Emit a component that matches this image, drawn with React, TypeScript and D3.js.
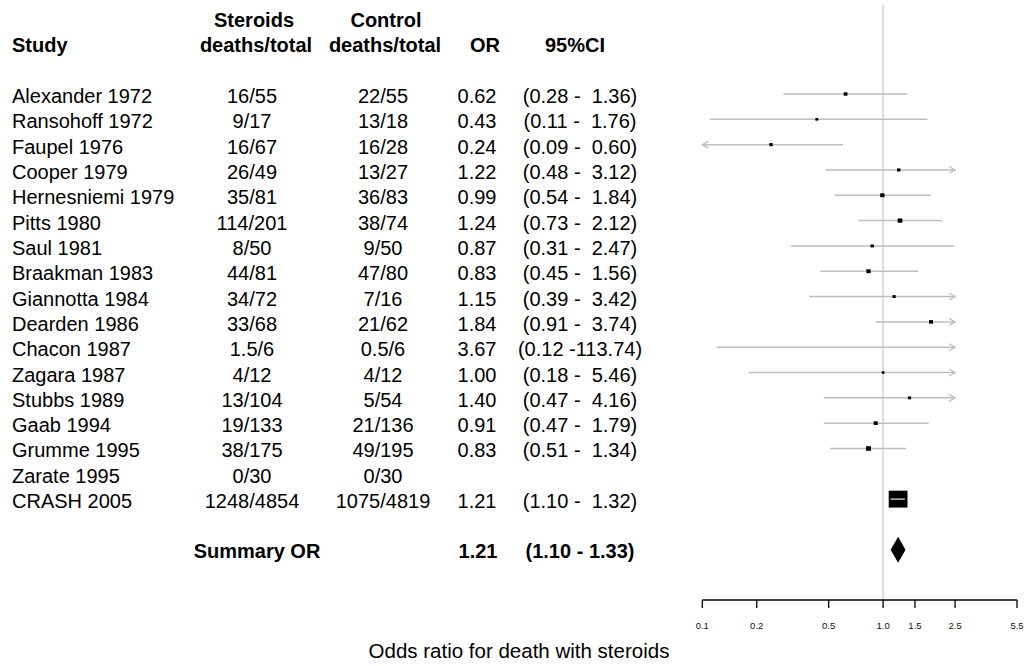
import React from "react";
import * as d3 from "d3";

// Trial table: corticosteroids after head injury
const studies = [
  "Alexander 1972", "Ransohoff 1972", "Faupel 1976", "Cooper 1979", "Hernesniemi 1979",
  "Pitts 1980", "Saul 1981", "Braakman 1983", "Giannotta 1984", "Dearden 1986",
  "Chacon 1987", "Zagara 1987", "Stubbs 1989", "Gaab 1994", "Grumme 1995",
  "Zarate 1995", "CRASH 2005",
];
const steroidDeaths = [
  "16/55", "9/17", "16/67", "26/49", "35/81", "114/201", "8/50", "44/81", "34/72",
  "33/68", "1.5/6", "4/12", "13/104", "19/133", "38/175", "0/30", "1248/4854",
];
const controlDeaths = [
  "22/55", "13/18", "16/28", "13/27", "36/83", "38/74", "9/50", "47/80", "7/16",
  "21/62", "0.5/6", "4/12", "5/54", "21/136", "49/195", "0/30", "1075/4819",
];
const oddsRatio: (number | null)[] = [
  0.62, 0.43, 0.24, 1.22, 0.99, 1.24, 0.87, 0.83, 1.15, 1.84, 3.67, 1.0, 1.4, 0.91, 0.83, null, 1.21,
];
const ciLower: (number | null)[] = [
  0.28, 0.11, 0.09, 0.48, 0.54, 0.73, 0.31, 0.45, 0.39, 0.91, 0.12, 0.18, 0.47, 0.47, 0.51, null, 1.1,
];
const ciUpper: (number | null)[] = [
  1.36, 1.76, 0.6, 3.12, 1.84, 2.12, 2.47, 1.56, 3.42, 3.74, 113.74, 5.46, 4.16, 1.79, 1.34, null, 1.32,
];
const summaryOR = 1.21;
const summaryLower = 1.1;
const summaryUpper = 1.33;

const axisTicks = [0.1, 0.2, 0.5, 1.0, 1.5, 2.5, 5.5];
const clipRange = [0.1, 2.5];

const W = 1029;
const H = 666;
const FONT = "'Liberation Sans', Arial, Helvetica, sans-serif";

const x = d3.scaleLog().domain([0.1, 5.5]).range([702.3, 1017]);
const rowY = d3.scaleLinear().domain([0, 1]).range([94, 94 + 25.32]);

const COL_STUDY = 12;
const COL_STER = 252;
const COL_CTRL = 383;
const COL_OR = 477;
const COL_CI = 580;

const LINE_COL = "#bebebe";

function seOf(lo: number, hi: number) {
  return (Math.log(hi) - Math.log(lo)) / (2 * 1.96);
}

// box side grows with precision (1/se), capped at the full box size
function boxSize(lo: number, hi: number) {
  return Math.min(20, 1.8 + 0.79 / seOf(lo, hi));
}

function ciText(lo: number, hi: number) {
  return `(${lo.toFixed(2)} -${hi.toFixed(2).padStart(6, " ")})`;
}

export default function App() {
  const baseOff = 9;
  const txt = { fontFamily: FONT, fontSize: 20, fill: "#000", whiteSpace: "pre" as const };
  const bold = { ...txt, fontWeight: 700 };
  const axisY = 600;
  const sumY = rowY(18);

  const rows = studies.map((s, i) => {
    const y = rowY(i);
    const or = oddsRatio[i];
    const lo = ciLower[i];
    const hi = ciUpper[i];
    let mark: React.ReactNode = null;
    if (or != null && lo != null && hi != null) {
      const size = boxSize(lo, hi);
      const clipHi = hi > clipRange[1];
      const clipLo = lo < clipRange[0];
      const boxInside = or >= clipRange[0] && or <= clipRange[1];
      const x0 = x(Math.max(lo, clipRange[0]));
      const x1 = x(Math.min(hi, clipRange[1]));
      const bx = x(or);
      const line = (
        <line x1={x0} x2={x1} y1={y} y2={y} stroke={LINE_COL} strokeWidth={1.5} />
      );
      mark = (
        <g key={`m${i}`}>
          {line}
          {clipHi && (
            <polyline
              points={`${x1 - 6},${y - 3.5} ${x1},${y} ${x1 - 6},${y + 3.5}`}
              fill="none"
              stroke={LINE_COL}
              strokeWidth={1.3}
            />
          )}
          {clipLo && (
            <polyline
              points={`${x0 + 6},${y - 3.5} ${x0},${y} ${x0 + 6},${y + 3.5}`}
              fill="none"
              stroke={LINE_COL}
              strokeWidth={1.3}
            />
          )}
          {boxInside && (
            <rect
              x={bx - size / 2}
              y={y - (size * 0.9) / 2}
              width={size}
              height={size * 0.9}
              fill="#000"
            />
          )}
          {/* box wider than the interval: redraw the interval over it */}
          {boxInside && bx - size / 2 < x0 && bx + size / 2 > x1 && line}
        </g>
      );
    }
    return (
      <g key={s}>
        <text x={COL_STUDY} y={y + baseOff} style={txt}>{s}</text>
        <text x={COL_STER} y={y + baseOff} textAnchor="middle" style={txt}>{steroidDeaths[i]}</text>
        <text x={COL_CTRL} y={y + baseOff} textAnchor="middle" style={txt}>{controlDeaths[i]}</text>
        {or != null && (
          <text x={COL_OR} y={y + baseOff} textAnchor="middle" style={txt}>{or.toFixed(2)}</text>
        )}
        {lo != null && hi != null && (
          <text x={COL_CI} y={y + baseOff} textAnchor="middle" style={txt}>{ciText(lo, hi)}</text>
        )}
        {mark}
      </g>
    );
  });

  const h1 = rowY(-3) + baseOff;
  const h2 = rowY(-2) + baseOff;

  return (
    <svg
      width={W}
      height={H}
      style={{ position: "absolute", left: 0, top: 0, background: "#fff" }}
    >
      <rect width={W} height={H} fill="#fff" />
      {/* reference line at OR = 1 */}
      <line x1={x(1)} x2={x(1)} y1={5} y2={axisY} stroke="#d6d6d6" strokeWidth={1.6} />

      {/* header */}
      <text x={COL_STUDY} y={h2} style={bold}>Study</text>
      <text x={COL_STER + 2} y={h1} textAnchor="middle" style={bold}>Steroids</text>
      <text x={COL_STER + 4} y={h2} textAnchor="middle" style={bold}>deaths/total</text>
      <text x={COL_CTRL + 3} y={h1} textAnchor="middle" style={bold}>Control</text>
      <text x={COL_CTRL + 2} y={h2} textAnchor="middle" style={bold}>deaths/total</text>
      <text x={485} y={h2} textAnchor="middle" style={bold}>OR</text>
      <text x={575} y={h2} textAnchor="middle" style={bold}>95%CI</text>

      {rows}

      {/* summary */}
      <text x={COL_STER + 5} y={sumY + 8} textAnchor="middle" style={bold}>Summary OR</text>
      <text x={COL_OR + 1} y={sumY + 8} textAnchor="middle" style={bold}>{summaryOR.toFixed(2)}</text>
      <text x={COL_CI} y={sumY + 8} textAnchor="middle" style={bold}>
        {`(${summaryLower.toFixed(2)} - ${summaryUpper.toFixed(2)})`}
      </text>
      <polygon
        points={`${x(summaryLower)},${sumY} ${x(summaryOR)},${sumY - 13} ${x(summaryUpper)},${sumY} ${x(summaryOR)},${sumY + 13}`}
        fill="#000"
      />

      {/* x axis */}
      <line x1={x(0.1)} x2={x(5.5)} y1={axisY} y2={axisY} stroke="#000" strokeWidth={1.3} />
      {axisTicks.map((t) => (
        <g key={t}>
          <line x1={x(t)} x2={x(t)} y1={axisY} y2={axisY + 8} stroke="#000" strokeWidth={1.3} />
          <text
            x={x(t)}
            y={628.5}
            textAnchor="middle"
            style={{ fontFamily: FONT, fontSize: 9.5, fill: "#111" }}
          >
            {t.toFixed(1)}
          </text>
        </g>
      ))}
      <text x={519} y={658} textAnchor="middle" style={{ ...txt, fontSize: 20.5 }}>
        Odds ratio for death with steroids
      </text>
    </svg>
  );
}
